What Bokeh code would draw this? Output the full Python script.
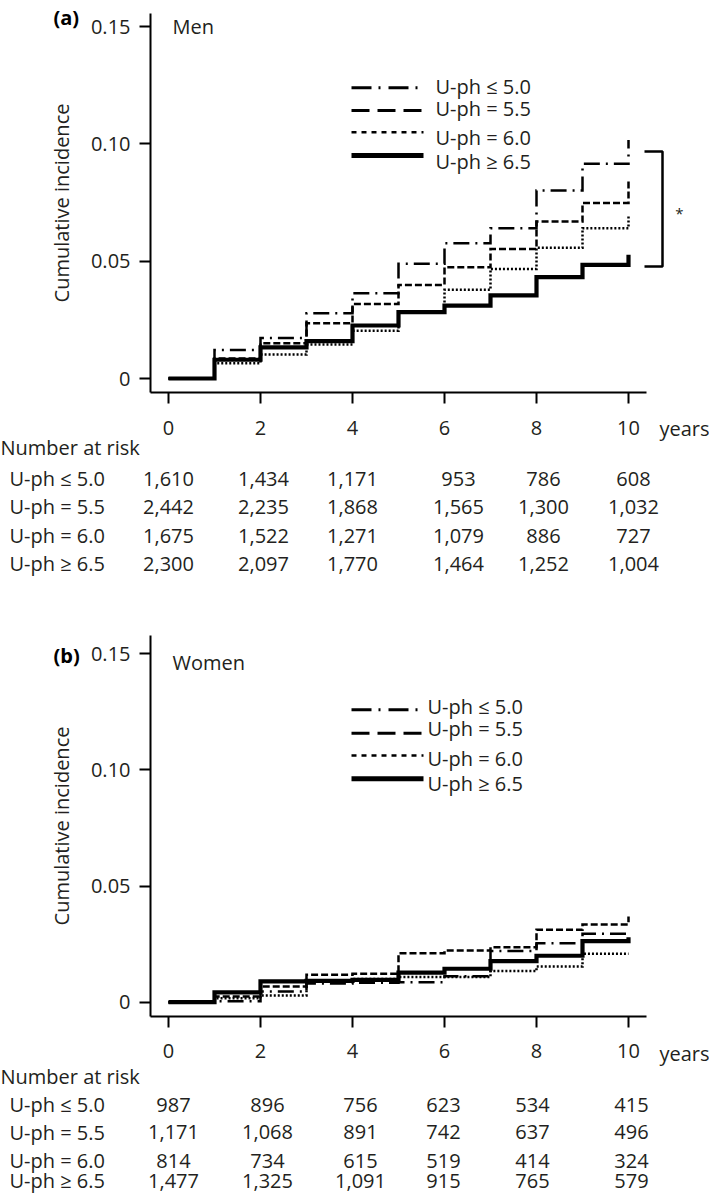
from bokeh.plotting import figure
from bokeh.models import Range1d
from bokeh.layouts import column
from bokeh.embed import file_html
from bokeh.resources import INLINE
from bokeh.core.properties import value

# ---------------- data ----------------
years = [0, 1, 2, 3, 4, 5, 6, 7, 8, 9, 10]
x_ticks = [0, 2, 4, 6, 8, 10]
y_ticks = [0, 0.05, 0.10, 0.15]
y_tick_labels = ["0", "0.05", "0.10", "0.15"]
groups = ["U-ph ≤ 5.0", "U-ph = 5.5", "U-ph = 6.0", "U-ph ≥ 6.5"]

men_le50 = [0.0, 0.0122, 0.0173, 0.0278, 0.0363, 0.0489, 0.0576, 0.0640, 0.0801, 0.0915, 0.1017]
men_55 = [0.0, 0.0085, 0.0150, 0.0236, 0.0318, 0.0399, 0.0474, 0.0552, 0.0669, 0.0748, 0.0843]
men_60 = [0.0, 0.0065, 0.0102, 0.0145, 0.0204, 0.0285, 0.0378, 0.0467, 0.0557, 0.0640, 0.0694]
men_ge65 = [0.0, 0.0080, 0.0133, 0.0159, 0.0226, 0.0283, 0.0311, 0.0354, 0.0432, 0.0484, 0.0528]

women_le50 = [0.0, 0.0004, 0.0046, 0.0080, 0.0084, 0.0086, 0.0112, 0.0220, 0.0254, 0.0295, 0.0300]
women_55 = [0.0, 0.0025, 0.0068, 0.0118, 0.0122, 0.0211, 0.0223, 0.0237, 0.0312, 0.0335, 0.0369]
women_60 = [0.0, 0.0017, 0.0029, 0.0092, 0.0100, 0.0108, 0.0108, 0.0134, 0.0154, 0.0209, 0.0209]
women_ge65 = [0.0, 0.0042, 0.0090, 0.0092, 0.0096, 0.0127, 0.0144, 0.0177, 0.0200, 0.0263, 0.0280]

men_risk_le50 = [1610, 1434, 1171, 953, 786, 608]
men_risk_55 = [2442, 2235, 1868, 1565, 1300, 1032]
men_risk_60 = [1675, 1522, 1271, 1079, 886, 727]
men_risk_ge65 = [2300, 2097, 1770, 1464, 1252, 1004]

women_risk_le50 = [987, 896, 756, 623, 534, 415]
women_risk_55 = [1171, 1068, 891, 742, 637, 496]
women_risk_60 = [814, 734, 615, 519, 414, 324]
women_risk_ge65 = [1477, 1325, 1091, 915, 765, 579]

men_bracket = [0.0477, 0.0968]
men_bracket_label = "*"

# ---------------- layout helpers ----------------
W = 709
FONT = "Open Sans"
FS = "20px"
TXT = "#231f20"
X0_PX = 168.0      # page pixel of year 0
PX_YEAR = 46.0     # page pixels per year

curve_styles = [
    dict(line_dash="16 6 2 6", line_width=2.5),
    dict(line_dash="7 3", line_width=2.5),
    dict(line_dash="2 2", line_width=2.5),
    dict(line_dash="solid", line_width=4.2),
]
key_styles = [
    dict(line_dash="20 7 2 8", line_width=3),
    dict(line_dash="18 8", line_width=3),
    dict(line_dash="5 5", line_width=2.5),
    dict(line_dash="solid", line_width=5),
]


def year_of(px):
    return (px - X0_PX) / PX_YEAR


def make_panel(series, top, bot, frame_top, frame_bot, zero_px, per05,
               letter, letter_y, sex, sex_y, key_ys, label_ys, label_x, years_y,
               risks, col_px, nar_y, row_ys, bracket=None):
    H = int(round(bot - top))
    vpp = 0.05 / per05

    def val(py):
        return (zero_px - py) * vpp

    p = figure(width=W, height=H,
               x_range=Range1d(year_of(0), year_of(W)),
               y_range=Range1d(val(top + H), val(top)),
               min_border=0, output_backend="svg", toolbar_location=None,
               background_fill_color="white", border_fill_color="white",
               outline_line_color=None)
    p.grid.visible = False

    for ax in (p.xaxis[0], p.yaxis[0]):
        ax.axis_line_width = 2
        ax.axis_line_color = "black"
        ax.major_tick_line_width = 2
        ax.major_tick_line_color = "black"
        ax.major_tick_out = 11
        ax.major_tick_in = 0
        ax.minor_tick_out = 0
        ax.minor_tick_in = 0
        ax.major_label_text_font = FONT
        ax.major_label_text_font_size = FS
        ax.major_label_text_color = TXT

    xa = p.xaxis[0]
    xa.ticker = x_ticks
    xa.fixed_location = val(frame_bot)
    xa.bounds = (year_of(150), year_of(646))
    xa.major_label_standoff = 17

    ya = p.yaxis[0]
    ya.ticker = y_ticks
    ya.fixed_location = year_of(150)
    ya.bounds = (val(frame_bot), val(frame_top))
    ya.major_label_overrides = {t: l for t, l in zip(y_ticks, y_tick_labels)}
    ya.major_label_standoff = 9
    ya.axis_label = "Cumulative incidence"
    ya.axis_label_text_font = FONT
    ya.axis_label_text_font_size = FS
    ya.axis_label_text_font_style = "normal"
    ya.axis_label_text_color = TXT
    ya.axis_label_standoff = 13

    # curves
    for ys, st in zip(series, curve_styles):
        p.step(years, ys, mode="after", line_color="black", line_join="miter", **st)

    common = dict(text_font=value(FONT), text_font_size=FS, text_color=TXT,
                  text_baseline="middle")

    # legend keys and labels
    for g, st, ky, ty in zip(groups, key_styles, key_ys, label_ys):
        p.line([year_of(351), year_of(423)], [val(ky), val(ky)], line_color="black",
               line_cap="butt", **st)
        p.text(x=[year_of(label_x)], y=[val(ty)], text=[g], text_align="left", **common)

    p.text(x=[year_of(53)], y=[val(letter_y)], text=[letter], text_align="left",
           text_font_style="bold", text_font=value(FONT), text_font_size=FS,
           text_color="black", text_baseline="middle")
    p.text(x=[year_of(172)], y=[val(sex_y)], text=[sex], text_align="left", **common)
    p.text(x=[year_of(659)], y=[val(years_y)], text=["years"], text_align="left", **common)

    # number at risk table
    p.text(x=[year_of(0)], y=[val(nar_y)], text=["Number at risk"], text_align="left", **common)
    p.text(x=[year_of(9)] * 4, y=[val(r) for r in row_ys], text=groups,
           text_align="left", **common)
    xs, ys_, txt = [], [], []
    for r, ry in zip(risks, row_ys):
        for n, cx in zip(r, col_px):
            xs.append(year_of(cx))
            ys_.append(val(ry))
            txt.append(f"{n:,}")
    p.text(x=xs, y=ys_, text=txt, text_align="center", **common)

    if bracket is not None:
        lo, hi = bracket
        xa_, xb_ = year_of(644), year_of(662)
        p.line([xa_, xb_, xb_, xa_], [hi, hi, lo, lo], line_color="black", line_width=2.5)
        p.text(x=[year_of(679)], y=[val(212)], text=[men_bracket_label],
               text_font=value(FONT), text_font_size="15px", text_color=TXT,
               text_align="center", text_baseline="alphabetic")
    return p


men_series = [men_le50, men_55, men_60, men_ge65]
women_series = [women_le50, women_55, women_60, women_ge65]

pa = make_panel(men_series, 0, 620, 13, 392, 378.0, 117.3,
                "(a)", 17, "Men", 26,
                [87.3, 110, 131.7, 155], [85.5, 107.5, 136.7, 161], 435, 428,
                [men_risk_le50, men_risk_55, men_risk_60, men_risk_ge65],
                (168, 263, 352, 458, 543, 633), 446.7, [478.3, 506, 535, 563.3],
                bracket=men_bracket)
pb = make_panel(women_series, 620, 1195, 635, 1015.7, 1001.7, 116.13,
                "(b)", 654.7, "Women", 661.7,
                [709.3, 732.7, 755, 778.3], [706.2, 728.3, 758, 782.8], 427, 1053,
                [women_risk_le50, women_risk_55, women_risk_60, women_risk_ge65],
                (173, 267, 360, 443, 532, 631), 1075.7, [1104, 1131.7, 1160, 1180])

layout = column(pa, pb, spacing=0)
open("out.html", "w").write(file_html(layout, INLINE))
